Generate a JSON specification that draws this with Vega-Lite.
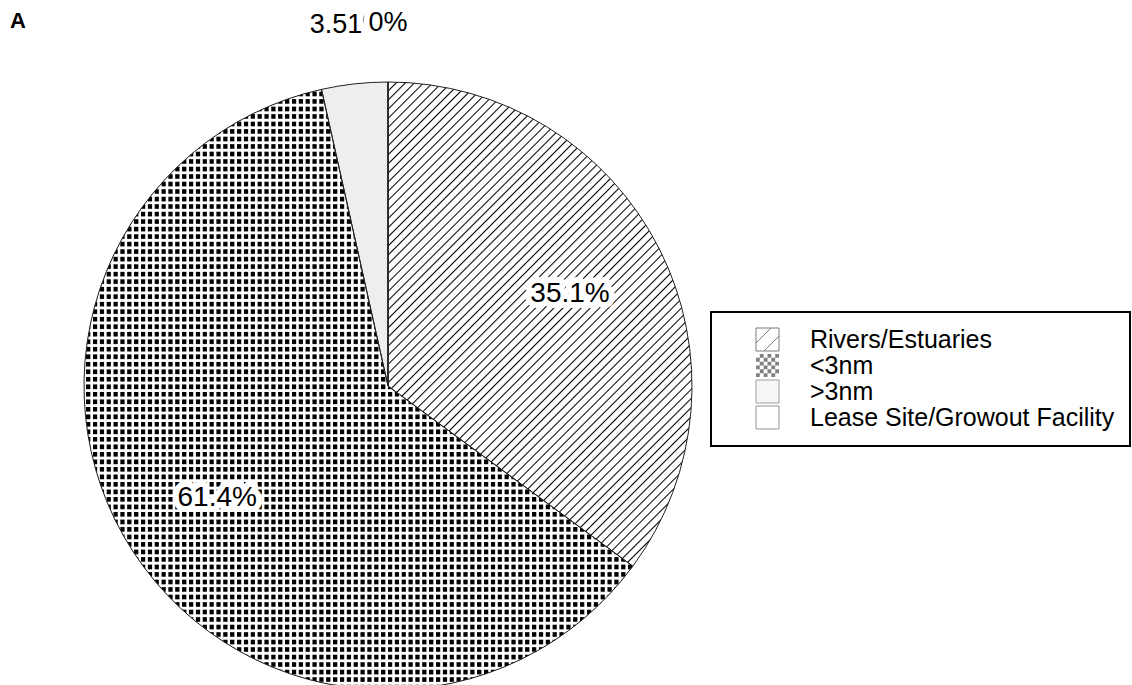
{
  "$schema": "https://vega.github.io/schema/vega-lite/v6.json",
  "width": 608,
  "height": 598,
  "autosize": {"type": "none"},
  "padding": {"left": 84, "top": 87, "right": 440, "bottom": 0},
  "background": "white",
  "title": {"text": "A", "anchor": "start", "frame": "group", "orient": "top", "offset": 0, "dx": -74, "dy": 41, "baseline": "alphabetic", "fontSize": 22, "fontWeight": "bold", "font": "Liberation Sans", "color": "#000"},
  "config": {
    "view": {"stroke": null},
    "font": "Liberation Sans",
    "title": {"fontSize": 22, "fontWeight": "bold"},
    "legend": {"title": null, "orient": "none", "legendX": 627, "legendY": 225, "padding": 15, "strokeColor": "#000", "strokeWidth": 2, "symbolSize": 529, "symbolStrokeWidth": 1, "symbolOffset": 29, "labelFontSize": 25, "labelFont": "Liberation Sans", "labelColor": "#000", "labelOffset": 30, "labelLimit": 500, "rowPadding": -2.5}
  },
  "data": {"values": [
    {"category": "Rivers/Estuaries", "value": 35.1, "label": "35.1%", "i": 1},
    {"category": "<3nm", "value": 61.4, "label": "61.4%", "i": 2},
    {"category": ">3nm", "value": 3.51, "label": "3.51%", "i": 3},
    {"category": "Lease Site/Growout Facility", "value": 0, "label": "0%", "i": 4}
  ]},
  "layer": [
    {
      "mark": {"type": "point", "filled": true, "size": 529, "strokeWidth": 1},
      "encoding": {
        "fill": {"field": "category", "type": "nominal", "title": null,
          "scale": {"domain": ["Rivers/Estuaries", "<3nm", ">3nm", "Lease Site/Growout Facility"], "range": ["#ffffff", "#000000", "#eeeeee", "#ffffff"]}},
        "stroke": {"field": "category", "type": "nominal", "title": null,
          "scale": {"domain": ["Rivers/Estuaries", "<3nm", ">3nm", "Lease Site/Growout Facility"], "range": ["#444444", "transparent", "#777777", "#666666"]}},
        "shape": {"field": "category", "type": "nominal", "title": null,
          "scale": {"domain": ["Rivers/Estuaries", "<3nm", ">3nm", "Lease Site/Growout Facility"], "range": [
            "M-1,-1H1V1H-1Z M-1,0.3L0.3,-1 M-0.3,1L1,-0.3",
            "M-1,-1H1V1H-1Z M-1,-1V-0.67H-0.67V-1Z M-0.33,-1V-0.67H0V-1Z M0.33,-1V-0.67H0.67V-1Z M-0.67,-0.67V-0.33H-0.33V-0.67Z M0,-0.67V-0.33H0.33V-0.67Z M0.67,-0.67V-0.33H1V-0.67Z M-1,-0.33V0H-0.67V-0.33Z M-0.33,-0.33V0H0V-0.33Z M0.33,-0.33V0H0.67V-0.33Z M-0.67,0V0.33H-0.33V0Z M0,0V0.33H0.33V0Z M0.67,0V0.33H1V0Z M-1,0.33V0.67H-0.67V0.33Z M-0.33,0.33V0.67H0V0.33Z M0.33,0.33V0.67H0.67V0.33Z M-0.67,0.67V1H-0.33V0.67Z M0,0.67V1H0.33V0.67Z M0.67,0.67V1H1V0.67Z",
            "square", "square"]}}
      }
    },
    {
      "mark": {"type": "arc", "outerRadius": 304},
      "encoding": {
        "theta": {"field": "value", "type": "quantitative", "stack": true},
        "order": {"field": "i", "type": "quantitative"},
        "fill": {"condition": [
          {"test": "datum.i == 1", "value": "#ffffff"},
          {"test": "datum.i == 2", "value": "#000000"},
          {"test": "datum.i == 3", "value": "#eeeeee"}], "value": "#ffffff"}
      }
    },
    {
      "mark": {"type": "arc", "outerRadius": 304,
        "fill": {"gradient": "linear", "x1": 0, "y1": 0, "x2": 0.678, "y2": 1.08, "stops": [
            {"offset": 0, "color": "#000"}, {"offset": 0.002, "color": "#fff"}, {"offset": 0.0105, "color": "#fff"},
            {"offset": 0.0125, "color": "#000"}, {"offset": 0.0145, "color": "#fff"}, {"offset": 0.023, "color": "#fff"},
            {"offset": 0.025, "color": "#000"}, {"offset": 0.027, "color": "#fff"}, {"offset": 0.0355, "color": "#fff"},
            {"offset": 0.0375, "color": "#000"}, {"offset": 0.0395, "color": "#fff"}, {"offset": 0.048, "color": "#fff"},
            {"offset": 0.05, "color": "#000"}, {"offset": 0.052, "color": "#fff"}, {"offset": 0.0605, "color": "#fff"},
            {"offset": 0.0625, "color": "#000"}, {"offset": 0.0645, "color": "#fff"}, {"offset": 0.073, "color": "#fff"},
            {"offset": 0.075, "color": "#000"}, {"offset": 0.077, "color": "#fff"}, {"offset": 0.0855, "color": "#fff"},
            {"offset": 0.0875, "color": "#000"}, {"offset": 0.0895, "color": "#fff"}, {"offset": 0.098, "color": "#fff"},
            {"offset": 0.1, "color": "#000"}, {"offset": 0.102, "color": "#fff"}, {"offset": 0.1105, "color": "#fff"},
            {"offset": 0.1125, "color": "#000"}, {"offset": 0.1145, "color": "#fff"}, {"offset": 0.123, "color": "#fff"},
            {"offset": 0.125, "color": "#000"}, {"offset": 0.127, "color": "#fff"}, {"offset": 0.1355, "color": "#fff"},
            {"offset": 0.1375, "color": "#000"}, {"offset": 0.1395, "color": "#fff"}, {"offset": 0.148, "color": "#fff"},
            {"offset": 0.15, "color": "#000"}, {"offset": 0.152, "color": "#fff"}, {"offset": 0.1605, "color": "#fff"},
            {"offset": 0.1625, "color": "#000"}, {"offset": 0.1645, "color": "#fff"}, {"offset": 0.173, "color": "#fff"},
            {"offset": 0.175, "color": "#000"}, {"offset": 0.177, "color": "#fff"}, {"offset": 0.1855, "color": "#fff"},
            {"offset": 0.1875, "color": "#000"}, {"offset": 0.1895, "color": "#fff"}, {"offset": 0.198, "color": "#fff"},
            {"offset": 0.2, "color": "#000"}, {"offset": 0.202, "color": "#fff"}, {"offset": 0.2105, "color": "#fff"},
            {"offset": 0.2125, "color": "#000"}, {"offset": 0.2145, "color": "#fff"}, {"offset": 0.223, "color": "#fff"},
            {"offset": 0.225, "color": "#000"}, {"offset": 0.227, "color": "#fff"}, {"offset": 0.2355, "color": "#fff"},
            {"offset": 0.2375, "color": "#000"}, {"offset": 0.2395, "color": "#fff"}, {"offset": 0.248, "color": "#fff"},
            {"offset": 0.25, "color": "#000"}, {"offset": 0.252, "color": "#fff"}, {"offset": 0.2605, "color": "#fff"},
            {"offset": 0.2625, "color": "#000"}, {"offset": 0.2645, "color": "#fff"}, {"offset": 0.273, "color": "#fff"},
            {"offset": 0.275, "color": "#000"}, {"offset": 0.277, "color": "#fff"}, {"offset": 0.2855, "color": "#fff"},
            {"offset": 0.2875, "color": "#000"}, {"offset": 0.2895, "color": "#fff"}, {"offset": 0.298, "color": "#fff"},
            {"offset": 0.3, "color": "#000"}, {"offset": 0.302, "color": "#fff"}, {"offset": 0.3105, "color": "#fff"},
            {"offset": 0.3125, "color": "#000"}, {"offset": 0.3145, "color": "#fff"}, {"offset": 0.323, "color": "#fff"},
            {"offset": 0.325, "color": "#000"}, {"offset": 0.327, "color": "#fff"}, {"offset": 0.3355, "color": "#fff"},
            {"offset": 0.3375, "color": "#000"}, {"offset": 0.3395, "color": "#fff"}, {"offset": 0.348, "color": "#fff"},
            {"offset": 0.35, "color": "#000"}, {"offset": 0.352, "color": "#fff"}, {"offset": 0.3605, "color": "#fff"},
            {"offset": 0.3625, "color": "#000"}, {"offset": 0.3645, "color": "#fff"}, {"offset": 0.373, "color": "#fff"},
            {"offset": 0.375, "color": "#000"}, {"offset": 0.377, "color": "#fff"}, {"offset": 0.3855, "color": "#fff"},
            {"offset": 0.3875, "color": "#000"}, {"offset": 0.3895, "color": "#fff"}, {"offset": 0.398, "color": "#fff"},
            {"offset": 0.4, "color": "#000"}, {"offset": 0.402, "color": "#fff"}, {"offset": 0.4105, "color": "#fff"},
            {"offset": 0.4125, "color": "#000"}, {"offset": 0.4145, "color": "#fff"}, {"offset": 0.423, "color": "#fff"},
            {"offset": 0.425, "color": "#000"}, {"offset": 0.427, "color": "#fff"}, {"offset": 0.4355, "color": "#fff"},
            {"offset": 0.4375, "color": "#000"}, {"offset": 0.4395, "color": "#fff"}, {"offset": 0.448, "color": "#fff"},
            {"offset": 0.45, "color": "#000"}, {"offset": 0.452, "color": "#fff"}, {"offset": 0.4605, "color": "#fff"},
            {"offset": 0.4625, "color": "#000"}, {"offset": 0.4645, "color": "#fff"}, {"offset": 0.473, "color": "#fff"},
            {"offset": 0.475, "color": "#000"}, {"offset": 0.477, "color": "#fff"}, {"offset": 0.4855, "color": "#fff"},
            {"offset": 0.4875, "color": "#000"}, {"offset": 0.4895, "color": "#fff"}, {"offset": 0.498, "color": "#fff"},
            {"offset": 0.5, "color": "#000"}, {"offset": 0.502, "color": "#fff"}, {"offset": 0.5105, "color": "#fff"},
            {"offset": 0.5125, "color": "#000"}, {"offset": 0.5145, "color": "#fff"}, {"offset": 0.523, "color": "#fff"},
            {"offset": 0.525, "color": "#000"}, {"offset": 0.527, "color": "#fff"}, {"offset": 0.5355, "color": "#fff"},
            {"offset": 0.5375, "color": "#000"}, {"offset": 0.5395, "color": "#fff"}, {"offset": 0.548, "color": "#fff"},
            {"offset": 0.55, "color": "#000"}, {"offset": 0.552, "color": "#fff"}, {"offset": 0.5605, "color": "#fff"},
            {"offset": 0.5625, "color": "#000"}, {"offset": 0.5645, "color": "#fff"}, {"offset": 0.573, "color": "#fff"},
            {"offset": 0.575, "color": "#000"}, {"offset": 0.577, "color": "#fff"}, {"offset": 0.5855, "color": "#fff"},
            {"offset": 0.5875, "color": "#000"}, {"offset": 0.5895, "color": "#fff"}, {"offset": 0.598, "color": "#fff"},
            {"offset": 0.6, "color": "#000"}, {"offset": 0.602, "color": "#fff"}, {"offset": 0.6105, "color": "#fff"},
            {"offset": 0.6125, "color": "#000"}, {"offset": 0.6145, "color": "#fff"}, {"offset": 0.623, "color": "#fff"},
            {"offset": 0.625, "color": "#000"}, {"offset": 0.627, "color": "#fff"}, {"offset": 0.6355, "color": "#fff"},
            {"offset": 0.6375, "color": "#000"}, {"offset": 0.6395, "color": "#fff"}, {"offset": 0.648, "color": "#fff"},
            {"offset": 0.65, "color": "#000"}, {"offset": 0.652, "color": "#fff"}, {"offset": 0.6605, "color": "#fff"},
            {"offset": 0.6625, "color": "#000"}, {"offset": 0.6645, "color": "#fff"}, {"offset": 0.673, "color": "#fff"},
            {"offset": 0.675, "color": "#000"}, {"offset": 0.677, "color": "#fff"}, {"offset": 0.6855, "color": "#fff"},
            {"offset": 0.6875, "color": "#000"}, {"offset": 0.6895, "color": "#fff"}, {"offset": 0.698, "color": "#fff"},
            {"offset": 0.7, "color": "#000"}, {"offset": 0.702, "color": "#fff"}, {"offset": 0.7105, "color": "#fff"},
            {"offset": 0.7125, "color": "#000"}, {"offset": 0.7145, "color": "#fff"}, {"offset": 0.723, "color": "#fff"},
            {"offset": 0.725, "color": "#000"}, {"offset": 0.727, "color": "#fff"}, {"offset": 0.7355, "color": "#fff"},
            {"offset": 0.7375, "color": "#000"}, {"offset": 0.7395, "color": "#fff"}, {"offset": 0.748, "color": "#fff"},
            {"offset": 0.75, "color": "#000"}, {"offset": 0.752, "color": "#fff"}, {"offset": 0.7605, "color": "#fff"},
            {"offset": 0.7625, "color": "#000"}, {"offset": 0.7645, "color": "#fff"}, {"offset": 0.773, "color": "#fff"},
            {"offset": 0.775, "color": "#000"}, {"offset": 0.777, "color": "#fff"}, {"offset": 0.7855, "color": "#fff"},
            {"offset": 0.7875, "color": "#000"}, {"offset": 0.7895, "color": "#fff"}, {"offset": 0.798, "color": "#fff"},
            {"offset": 0.8, "color": "#000"}, {"offset": 0.802, "color": "#fff"}, {"offset": 0.8105, "color": "#fff"},
            {"offset": 0.8125, "color": "#000"}, {"offset": 0.8145, "color": "#fff"}, {"offset": 0.823, "color": "#fff"},
            {"offset": 0.825, "color": "#000"}, {"offset": 0.827, "color": "#fff"}, {"offset": 0.8355, "color": "#fff"},
            {"offset": 0.8375, "color": "#000"}, {"offset": 0.8395, "color": "#fff"}, {"offset": 0.848, "color": "#fff"},
            {"offset": 0.85, "color": "#000"}, {"offset": 0.852, "color": "#fff"}, {"offset": 0.8605, "color": "#fff"},
            {"offset": 0.8625, "color": "#000"}, {"offset": 0.8645, "color": "#fff"}, {"offset": 0.873, "color": "#fff"},
            {"offset": 0.875, "color": "#000"}, {"offset": 0.877, "color": "#fff"}, {"offset": 0.8855, "color": "#fff"},
            {"offset": 0.8875, "color": "#000"}, {"offset": 0.8895, "color": "#fff"}, {"offset": 0.898, "color": "#fff"},
            {"offset": 0.9, "color": "#000"}, {"offset": 0.902, "color": "#fff"}, {"offset": 0.9105, "color": "#fff"},
            {"offset": 0.9125, "color": "#000"}, {"offset": 0.9145, "color": "#fff"}, {"offset": 0.923, "color": "#fff"},
            {"offset": 0.925, "color": "#000"}, {"offset": 0.927, "color": "#fff"}, {"offset": 0.9355, "color": "#fff"},
            {"offset": 0.9375, "color": "#000"}, {"offset": 0.9395, "color": "#fff"}, {"offset": 0.948, "color": "#fff"},
            {"offset": 0.95, "color": "#000"}, {"offset": 0.952, "color": "#fff"}, {"offset": 0.9605, "color": "#fff"},
            {"offset": 0.9625, "color": "#000"}, {"offset": 0.9645, "color": "#fff"}, {"offset": 0.973, "color": "#fff"},
            {"offset": 0.975, "color": "#000"}, {"offset": 0.977, "color": "#fff"}, {"offset": 0.9855, "color": "#fff"},
            {"offset": 0.9875, "color": "#000"}, {"offset": 0.9895, "color": "#fff"}, {"offset": 1, "color": "#fff"}
          ]}},
      "encoding": {
        "theta": {"field": "value", "type": "quantitative", "stack": true},
        "order": {"field": "i", "type": "quantitative"},
        "fillOpacity": {"condition": {"test": "datum.i == 1", "value": 1}, "value": 0}
      }
    },
    {
      "mark": {"type": "arc", "outerRadius": 304,
        "fill": {"gradient": "linear", "x1": 0, "y1": 0, "x2": 1, "y2": 0, "stops": [
            {"offset": 0, "color": "#fff"}, {"offset": 0.003, "color": "#fff"}, {"offset": 0.0045, "color": "#fff0"}, {"offset": 0.0105, "color": "#fff0"},
            {"offset": 0.0125, "color": "#fff"}, {"offset": 0.0155, "color": "#fff"}, {"offset": 0.017, "color": "#fff0"}, {"offset": 0.023, "color": "#fff0"},
            {"offset": 0.025, "color": "#fff"}, {"offset": 0.028, "color": "#fff"}, {"offset": 0.0295, "color": "#fff0"}, {"offset": 0.0355, "color": "#fff0"},
            {"offset": 0.0375, "color": "#fff"}, {"offset": 0.0405, "color": "#fff"}, {"offset": 0.042, "color": "#fff0"}, {"offset": 0.048, "color": "#fff0"},
            {"offset": 0.05, "color": "#fff"}, {"offset": 0.053, "color": "#fff"}, {"offset": 0.0545, "color": "#fff0"}, {"offset": 0.0605, "color": "#fff0"},
            {"offset": 0.0625, "color": "#fff"}, {"offset": 0.0655, "color": "#fff"}, {"offset": 0.067, "color": "#fff0"}, {"offset": 0.073, "color": "#fff0"},
            {"offset": 0.075, "color": "#fff"}, {"offset": 0.078, "color": "#fff"}, {"offset": 0.0795, "color": "#fff0"}, {"offset": 0.0855, "color": "#fff0"},
            {"offset": 0.0875, "color": "#fff"}, {"offset": 0.0905, "color": "#fff"}, {"offset": 0.092, "color": "#fff0"}, {"offset": 0.098, "color": "#fff0"},
            {"offset": 0.1, "color": "#fff"}, {"offset": 0.103, "color": "#fff"}, {"offset": 0.1045, "color": "#fff0"}, {"offset": 0.1105, "color": "#fff0"},
            {"offset": 0.1125, "color": "#fff"}, {"offset": 0.1155, "color": "#fff"}, {"offset": 0.117, "color": "#fff0"}, {"offset": 0.123, "color": "#fff0"},
            {"offset": 0.125, "color": "#fff"}, {"offset": 0.128, "color": "#fff"}, {"offset": 0.1295, "color": "#fff0"}, {"offset": 0.1355, "color": "#fff0"},
            {"offset": 0.1375, "color": "#fff"}, {"offset": 0.1405, "color": "#fff"}, {"offset": 0.142, "color": "#fff0"}, {"offset": 0.148, "color": "#fff0"},
            {"offset": 0.15, "color": "#fff"}, {"offset": 0.153, "color": "#fff"}, {"offset": 0.1545, "color": "#fff0"}, {"offset": 0.1605, "color": "#fff0"},
            {"offset": 0.1625, "color": "#fff"}, {"offset": 0.1655, "color": "#fff"}, {"offset": 0.167, "color": "#fff0"}, {"offset": 0.173, "color": "#fff0"},
            {"offset": 0.175, "color": "#fff"}, {"offset": 0.178, "color": "#fff"}, {"offset": 0.1795, "color": "#fff0"}, {"offset": 0.1855, "color": "#fff0"},
            {"offset": 0.1875, "color": "#fff"}, {"offset": 0.1905, "color": "#fff"}, {"offset": 0.192, "color": "#fff0"}, {"offset": 0.198, "color": "#fff0"},
            {"offset": 0.2, "color": "#fff"}, {"offset": 0.203, "color": "#fff"}, {"offset": 0.2045, "color": "#fff0"}, {"offset": 0.2105, "color": "#fff0"},
            {"offset": 0.2125, "color": "#fff"}, {"offset": 0.2155, "color": "#fff"}, {"offset": 0.217, "color": "#fff0"}, {"offset": 0.223, "color": "#fff0"},
            {"offset": 0.225, "color": "#fff"}, {"offset": 0.228, "color": "#fff"}, {"offset": 0.2295, "color": "#fff0"}, {"offset": 0.2355, "color": "#fff0"},
            {"offset": 0.2375, "color": "#fff"}, {"offset": 0.2405, "color": "#fff"}, {"offset": 0.242, "color": "#fff0"}, {"offset": 0.248, "color": "#fff0"},
            {"offset": 0.25, "color": "#fff"}, {"offset": 0.253, "color": "#fff"}, {"offset": 0.2545, "color": "#fff0"}, {"offset": 0.2605, "color": "#fff0"},
            {"offset": 0.2625, "color": "#fff"}, {"offset": 0.2655, "color": "#fff"}, {"offset": 0.267, "color": "#fff0"}, {"offset": 0.273, "color": "#fff0"},
            {"offset": 0.275, "color": "#fff"}, {"offset": 0.278, "color": "#fff"}, {"offset": 0.2795, "color": "#fff0"}, {"offset": 0.2855, "color": "#fff0"},
            {"offset": 0.2875, "color": "#fff"}, {"offset": 0.2905, "color": "#fff"}, {"offset": 0.292, "color": "#fff0"}, {"offset": 0.298, "color": "#fff0"},
            {"offset": 0.3, "color": "#fff"}, {"offset": 0.303, "color": "#fff"}, {"offset": 0.3045, "color": "#fff0"}, {"offset": 0.3105, "color": "#fff0"},
            {"offset": 0.3125, "color": "#fff"}, {"offset": 0.3155, "color": "#fff"}, {"offset": 0.317, "color": "#fff0"}, {"offset": 0.323, "color": "#fff0"},
            {"offset": 0.325, "color": "#fff"}, {"offset": 0.328, "color": "#fff"}, {"offset": 0.3295, "color": "#fff0"}, {"offset": 0.3355, "color": "#fff0"},
            {"offset": 0.3375, "color": "#fff"}, {"offset": 0.3405, "color": "#fff"}, {"offset": 0.342, "color": "#fff0"}, {"offset": 0.348, "color": "#fff0"},
            {"offset": 0.35, "color": "#fff"}, {"offset": 0.353, "color": "#fff"}, {"offset": 0.3545, "color": "#fff0"}, {"offset": 0.3605, "color": "#fff0"},
            {"offset": 0.3625, "color": "#fff"}, {"offset": 0.3655, "color": "#fff"}, {"offset": 0.367, "color": "#fff0"}, {"offset": 0.373, "color": "#fff0"},
            {"offset": 0.375, "color": "#fff"}, {"offset": 0.378, "color": "#fff"}, {"offset": 0.3795, "color": "#fff0"}, {"offset": 0.3855, "color": "#fff0"},
            {"offset": 0.3875, "color": "#fff"}, {"offset": 0.3905, "color": "#fff"}, {"offset": 0.392, "color": "#fff0"}, {"offset": 0.398, "color": "#fff0"},
            {"offset": 0.4, "color": "#fff"}, {"offset": 0.403, "color": "#fff"}, {"offset": 0.4045, "color": "#fff0"}, {"offset": 0.4105, "color": "#fff0"},
            {"offset": 0.4125, "color": "#fff"}, {"offset": 0.4155, "color": "#fff"}, {"offset": 0.417, "color": "#fff0"}, {"offset": 0.423, "color": "#fff0"},
            {"offset": 0.425, "color": "#fff"}, {"offset": 0.428, "color": "#fff"}, {"offset": 0.4295, "color": "#fff0"}, {"offset": 0.4355, "color": "#fff0"},
            {"offset": 0.4375, "color": "#fff"}, {"offset": 0.4405, "color": "#fff"}, {"offset": 0.442, "color": "#fff0"}, {"offset": 0.448, "color": "#fff0"},
            {"offset": 0.45, "color": "#fff"}, {"offset": 0.453, "color": "#fff"}, {"offset": 0.4545, "color": "#fff0"}, {"offset": 0.4605, "color": "#fff0"},
            {"offset": 0.4625, "color": "#fff"}, {"offset": 0.4655, "color": "#fff"}, {"offset": 0.467, "color": "#fff0"}, {"offset": 0.473, "color": "#fff0"},
            {"offset": 0.475, "color": "#fff"}, {"offset": 0.478, "color": "#fff"}, {"offset": 0.4795, "color": "#fff0"}, {"offset": 0.4855, "color": "#fff0"},
            {"offset": 0.4875, "color": "#fff"}, {"offset": 0.4905, "color": "#fff"}, {"offset": 0.492, "color": "#fff0"}, {"offset": 0.498, "color": "#fff0"},
            {"offset": 0.5, "color": "#fff"}, {"offset": 0.503, "color": "#fff"}, {"offset": 0.5045, "color": "#fff0"}, {"offset": 0.5105, "color": "#fff0"},
            {"offset": 0.5125, "color": "#fff"}, {"offset": 0.5155, "color": "#fff"}, {"offset": 0.517, "color": "#fff0"}, {"offset": 0.523, "color": "#fff0"},
            {"offset": 0.525, "color": "#fff"}, {"offset": 0.528, "color": "#fff"}, {"offset": 0.5295, "color": "#fff0"}, {"offset": 0.5355, "color": "#fff0"},
            {"offset": 0.5375, "color": "#fff"}, {"offset": 0.5405, "color": "#fff"}, {"offset": 0.542, "color": "#fff0"}, {"offset": 0.548, "color": "#fff0"},
            {"offset": 0.55, "color": "#fff"}, {"offset": 0.553, "color": "#fff"}, {"offset": 0.5545, "color": "#fff0"}, {"offset": 0.5605, "color": "#fff0"},
            {"offset": 0.5625, "color": "#fff"}, {"offset": 0.5655, "color": "#fff"}, {"offset": 0.567, "color": "#fff0"}, {"offset": 0.573, "color": "#fff0"},
            {"offset": 0.575, "color": "#fff"}, {"offset": 0.578, "color": "#fff"}, {"offset": 0.5795, "color": "#fff0"}, {"offset": 0.5855, "color": "#fff0"},
            {"offset": 0.5875, "color": "#fff"}, {"offset": 0.5905, "color": "#fff"}, {"offset": 0.592, "color": "#fff0"}, {"offset": 0.598, "color": "#fff0"},
            {"offset": 0.6, "color": "#fff"}, {"offset": 0.603, "color": "#fff"}, {"offset": 0.6045, "color": "#fff0"}, {"offset": 0.6105, "color": "#fff0"},
            {"offset": 0.6125, "color": "#fff"}, {"offset": 0.6155, "color": "#fff"}, {"offset": 0.617, "color": "#fff0"}, {"offset": 0.623, "color": "#fff0"},
            {"offset": 0.625, "color": "#fff"}, {"offset": 0.628, "color": "#fff"}, {"offset": 0.6295, "color": "#fff0"}, {"offset": 0.6355, "color": "#fff0"},
            {"offset": 0.6375, "color": "#fff"}, {"offset": 0.6405, "color": "#fff"}, {"offset": 0.642, "color": "#fff0"}, {"offset": 0.648, "color": "#fff0"},
            {"offset": 0.65, "color": "#fff"}, {"offset": 0.653, "color": "#fff"}, {"offset": 0.6545, "color": "#fff0"}, {"offset": 0.6605, "color": "#fff0"},
            {"offset": 0.6625, "color": "#fff"}, {"offset": 0.6655, "color": "#fff"}, {"offset": 0.667, "color": "#fff0"}, {"offset": 0.673, "color": "#fff0"},
            {"offset": 0.675, "color": "#fff"}, {"offset": 0.678, "color": "#fff"}, {"offset": 0.6795, "color": "#fff0"}, {"offset": 0.6855, "color": "#fff0"},
            {"offset": 0.6875, "color": "#fff"}, {"offset": 0.6905, "color": "#fff"}, {"offset": 0.692, "color": "#fff0"}, {"offset": 0.698, "color": "#fff0"},
            {"offset": 0.7, "color": "#fff"}, {"offset": 0.703, "color": "#fff"}, {"offset": 0.7045, "color": "#fff0"}, {"offset": 0.7105, "color": "#fff0"},
            {"offset": 0.7125, "color": "#fff"}, {"offset": 0.7155, "color": "#fff"}, {"offset": 0.717, "color": "#fff0"}, {"offset": 0.723, "color": "#fff0"},
            {"offset": 0.725, "color": "#fff"}, {"offset": 0.728, "color": "#fff"}, {"offset": 0.7295, "color": "#fff0"}, {"offset": 0.7355, "color": "#fff0"},
            {"offset": 0.7375, "color": "#fff"}, {"offset": 0.7405, "color": "#fff"}, {"offset": 0.742, "color": "#fff0"}, {"offset": 0.748, "color": "#fff0"},
            {"offset": 0.75, "color": "#fff"}, {"offset": 0.753, "color": "#fff"}, {"offset": 0.7545, "color": "#fff0"}, {"offset": 0.7605, "color": "#fff0"},
            {"offset": 0.7625, "color": "#fff"}, {"offset": 0.7655, "color": "#fff"}, {"offset": 0.767, "color": "#fff0"}, {"offset": 0.773, "color": "#fff0"},
            {"offset": 0.775, "color": "#fff"}, {"offset": 0.778, "color": "#fff"}, {"offset": 0.7795, "color": "#fff0"}, {"offset": 0.7855, "color": "#fff0"},
            {"offset": 0.7875, "color": "#fff"}, {"offset": 0.7905, "color": "#fff"}, {"offset": 0.792, "color": "#fff0"}, {"offset": 0.798, "color": "#fff0"},
            {"offset": 0.8, "color": "#fff"}, {"offset": 0.803, "color": "#fff"}, {"offset": 0.8045, "color": "#fff0"}, {"offset": 0.8105, "color": "#fff0"},
            {"offset": 0.8125, "color": "#fff"}, {"offset": 0.8155, "color": "#fff"}, {"offset": 0.817, "color": "#fff0"}, {"offset": 0.823, "color": "#fff0"},
            {"offset": 0.825, "color": "#fff"}, {"offset": 0.828, "color": "#fff"}, {"offset": 0.8295, "color": "#fff0"}, {"offset": 0.8355, "color": "#fff0"},
            {"offset": 0.8375, "color": "#fff"}, {"offset": 0.8405, "color": "#fff"}, {"offset": 0.842, "color": "#fff0"}, {"offset": 0.848, "color": "#fff0"},
            {"offset": 0.85, "color": "#fff"}, {"offset": 0.853, "color": "#fff"}, {"offset": 0.8545, "color": "#fff0"}, {"offset": 0.8605, "color": "#fff0"},
            {"offset": 0.8625, "color": "#fff"}, {"offset": 0.8655, "color": "#fff"}, {"offset": 0.867, "color": "#fff0"}, {"offset": 0.873, "color": "#fff0"},
            {"offset": 0.875, "color": "#fff"}, {"offset": 0.878, "color": "#fff"}, {"offset": 0.8795, "color": "#fff0"}, {"offset": 0.8855, "color": "#fff0"},
            {"offset": 0.8875, "color": "#fff"}, {"offset": 0.8905, "color": "#fff"}, {"offset": 0.892, "color": "#fff0"}, {"offset": 0.898, "color": "#fff0"},
            {"offset": 0.9, "color": "#fff"}, {"offset": 0.903, "color": "#fff"}, {"offset": 0.9045, "color": "#fff0"}, {"offset": 0.9105, "color": "#fff0"},
            {"offset": 0.9125, "color": "#fff"}, {"offset": 0.9155, "color": "#fff"}, {"offset": 0.917, "color": "#fff0"}, {"offset": 0.923, "color": "#fff0"},
            {"offset": 0.925, "color": "#fff"}, {"offset": 0.928, "color": "#fff"}, {"offset": 0.9295, "color": "#fff0"}, {"offset": 0.9355, "color": "#fff0"},
            {"offset": 0.9375, "color": "#fff"}, {"offset": 0.9405, "color": "#fff"}, {"offset": 0.942, "color": "#fff0"}, {"offset": 0.948, "color": "#fff0"},
            {"offset": 0.95, "color": "#fff"}, {"offset": 0.953, "color": "#fff"}, {"offset": 0.9545, "color": "#fff0"}, {"offset": 0.9605, "color": "#fff0"},
            {"offset": 0.9625, "color": "#fff"}, {"offset": 0.9655, "color": "#fff"}, {"offset": 0.967, "color": "#fff0"}, {"offset": 0.973, "color": "#fff0"},
            {"offset": 0.975, "color": "#fff"}, {"offset": 0.978, "color": "#fff"}, {"offset": 0.9795, "color": "#fff0"}, {"offset": 0.9855, "color": "#fff0"},
            {"offset": 0.9875, "color": "#fff"}, {"offset": 0.9905, "color": "#fff"}, {"offset": 0.992, "color": "#fff0"}, {"offset": 0.998, "color": "#fff0"},
            {"offset": 1, "color": "#fff"}
          ]}},
      "encoding": {
        "theta": {"field": "value", "type": "quantitative", "stack": true},
        "order": {"field": "i", "type": "quantitative"},
        "fillOpacity": {"condition": {"test": "datum.i == 2", "value": 1}, "value": 0}
      }
    },
    {
      "mark": {"type": "arc", "outerRadius": 304,
        "fill": {"gradient": "linear", "x1": 0, "y1": 0, "x2": 0, "y2": 1, "stops": [
            {"offset": 0, "color": "#fff"}, {"offset": 0.003, "color": "#fff"}, {"offset": 0.0045, "color": "#fff0"}, {"offset": 0.0105, "color": "#fff0"},
            {"offset": 0.0125, "color": "#fff"}, {"offset": 0.0155, "color": "#fff"}, {"offset": 0.017, "color": "#fff0"}, {"offset": 0.023, "color": "#fff0"},
            {"offset": 0.025, "color": "#fff"}, {"offset": 0.028, "color": "#fff"}, {"offset": 0.0295, "color": "#fff0"}, {"offset": 0.0355, "color": "#fff0"},
            {"offset": 0.0375, "color": "#fff"}, {"offset": 0.0405, "color": "#fff"}, {"offset": 0.042, "color": "#fff0"}, {"offset": 0.048, "color": "#fff0"},
            {"offset": 0.05, "color": "#fff"}, {"offset": 0.053, "color": "#fff"}, {"offset": 0.0545, "color": "#fff0"}, {"offset": 0.0605, "color": "#fff0"},
            {"offset": 0.0625, "color": "#fff"}, {"offset": 0.0655, "color": "#fff"}, {"offset": 0.067, "color": "#fff0"}, {"offset": 0.073, "color": "#fff0"},
            {"offset": 0.075, "color": "#fff"}, {"offset": 0.078, "color": "#fff"}, {"offset": 0.0795, "color": "#fff0"}, {"offset": 0.0855, "color": "#fff0"},
            {"offset": 0.0875, "color": "#fff"}, {"offset": 0.0905, "color": "#fff"}, {"offset": 0.092, "color": "#fff0"}, {"offset": 0.098, "color": "#fff0"},
            {"offset": 0.1, "color": "#fff"}, {"offset": 0.103, "color": "#fff"}, {"offset": 0.1045, "color": "#fff0"}, {"offset": 0.1105, "color": "#fff0"},
            {"offset": 0.1125, "color": "#fff"}, {"offset": 0.1155, "color": "#fff"}, {"offset": 0.117, "color": "#fff0"}, {"offset": 0.123, "color": "#fff0"},
            {"offset": 0.125, "color": "#fff"}, {"offset": 0.128, "color": "#fff"}, {"offset": 0.1295, "color": "#fff0"}, {"offset": 0.1355, "color": "#fff0"},
            {"offset": 0.1375, "color": "#fff"}, {"offset": 0.1405, "color": "#fff"}, {"offset": 0.142, "color": "#fff0"}, {"offset": 0.148, "color": "#fff0"},
            {"offset": 0.15, "color": "#fff"}, {"offset": 0.153, "color": "#fff"}, {"offset": 0.1545, "color": "#fff0"}, {"offset": 0.1605, "color": "#fff0"},
            {"offset": 0.1625, "color": "#fff"}, {"offset": 0.1655, "color": "#fff"}, {"offset": 0.167, "color": "#fff0"}, {"offset": 0.173, "color": "#fff0"},
            {"offset": 0.175, "color": "#fff"}, {"offset": 0.178, "color": "#fff"}, {"offset": 0.1795, "color": "#fff0"}, {"offset": 0.1855, "color": "#fff0"},
            {"offset": 0.1875, "color": "#fff"}, {"offset": 0.1905, "color": "#fff"}, {"offset": 0.192, "color": "#fff0"}, {"offset": 0.198, "color": "#fff0"},
            {"offset": 0.2, "color": "#fff"}, {"offset": 0.203, "color": "#fff"}, {"offset": 0.2045, "color": "#fff0"}, {"offset": 0.2105, "color": "#fff0"},
            {"offset": 0.2125, "color": "#fff"}, {"offset": 0.2155, "color": "#fff"}, {"offset": 0.217, "color": "#fff0"}, {"offset": 0.223, "color": "#fff0"},
            {"offset": 0.225, "color": "#fff"}, {"offset": 0.228, "color": "#fff"}, {"offset": 0.2295, "color": "#fff0"}, {"offset": 0.2355, "color": "#fff0"},
            {"offset": 0.2375, "color": "#fff"}, {"offset": 0.2405, "color": "#fff"}, {"offset": 0.242, "color": "#fff0"}, {"offset": 0.248, "color": "#fff0"},
            {"offset": 0.25, "color": "#fff"}, {"offset": 0.253, "color": "#fff"}, {"offset": 0.2545, "color": "#fff0"}, {"offset": 0.2605, "color": "#fff0"},
            {"offset": 0.2625, "color": "#fff"}, {"offset": 0.2655, "color": "#fff"}, {"offset": 0.267, "color": "#fff0"}, {"offset": 0.273, "color": "#fff0"},
            {"offset": 0.275, "color": "#fff"}, {"offset": 0.278, "color": "#fff"}, {"offset": 0.2795, "color": "#fff0"}, {"offset": 0.2855, "color": "#fff0"},
            {"offset": 0.2875, "color": "#fff"}, {"offset": 0.2905, "color": "#fff"}, {"offset": 0.292, "color": "#fff0"}, {"offset": 0.298, "color": "#fff0"},
            {"offset": 0.3, "color": "#fff"}, {"offset": 0.303, "color": "#fff"}, {"offset": 0.3045, "color": "#fff0"}, {"offset": 0.3105, "color": "#fff0"},
            {"offset": 0.3125, "color": "#fff"}, {"offset": 0.3155, "color": "#fff"}, {"offset": 0.317, "color": "#fff0"}, {"offset": 0.323, "color": "#fff0"},
            {"offset": 0.325, "color": "#fff"}, {"offset": 0.328, "color": "#fff"}, {"offset": 0.3295, "color": "#fff0"}, {"offset": 0.3355, "color": "#fff0"},
            {"offset": 0.3375, "color": "#fff"}, {"offset": 0.3405, "color": "#fff"}, {"offset": 0.342, "color": "#fff0"}, {"offset": 0.348, "color": "#fff0"},
            {"offset": 0.35, "color": "#fff"}, {"offset": 0.353, "color": "#fff"}, {"offset": 0.3545, "color": "#fff0"}, {"offset": 0.3605, "color": "#fff0"},
            {"offset": 0.3625, "color": "#fff"}, {"offset": 0.3655, "color": "#fff"}, {"offset": 0.367, "color": "#fff0"}, {"offset": 0.373, "color": "#fff0"},
            {"offset": 0.375, "color": "#fff"}, {"offset": 0.378, "color": "#fff"}, {"offset": 0.3795, "color": "#fff0"}, {"offset": 0.3855, "color": "#fff0"},
            {"offset": 0.3875, "color": "#fff"}, {"offset": 0.3905, "color": "#fff"}, {"offset": 0.392, "color": "#fff0"}, {"offset": 0.398, "color": "#fff0"},
            {"offset": 0.4, "color": "#fff"}, {"offset": 0.403, "color": "#fff"}, {"offset": 0.4045, "color": "#fff0"}, {"offset": 0.4105, "color": "#fff0"},
            {"offset": 0.4125, "color": "#fff"}, {"offset": 0.4155, "color": "#fff"}, {"offset": 0.417, "color": "#fff0"}, {"offset": 0.423, "color": "#fff0"},
            {"offset": 0.425, "color": "#fff"}, {"offset": 0.428, "color": "#fff"}, {"offset": 0.4295, "color": "#fff0"}, {"offset": 0.4355, "color": "#fff0"},
            {"offset": 0.4375, "color": "#fff"}, {"offset": 0.4405, "color": "#fff"}, {"offset": 0.442, "color": "#fff0"}, {"offset": 0.448, "color": "#fff0"},
            {"offset": 0.45, "color": "#fff"}, {"offset": 0.453, "color": "#fff"}, {"offset": 0.4545, "color": "#fff0"}, {"offset": 0.4605, "color": "#fff0"},
            {"offset": 0.4625, "color": "#fff"}, {"offset": 0.4655, "color": "#fff"}, {"offset": 0.467, "color": "#fff0"}, {"offset": 0.473, "color": "#fff0"},
            {"offset": 0.475, "color": "#fff"}, {"offset": 0.478, "color": "#fff"}, {"offset": 0.4795, "color": "#fff0"}, {"offset": 0.4855, "color": "#fff0"},
            {"offset": 0.4875, "color": "#fff"}, {"offset": 0.4905, "color": "#fff"}, {"offset": 0.492, "color": "#fff0"}, {"offset": 0.498, "color": "#fff0"},
            {"offset": 0.5, "color": "#fff"}, {"offset": 0.503, "color": "#fff"}, {"offset": 0.5045, "color": "#fff0"}, {"offset": 0.5105, "color": "#fff0"},
            {"offset": 0.5125, "color": "#fff"}, {"offset": 0.5155, "color": "#fff"}, {"offset": 0.517, "color": "#fff0"}, {"offset": 0.523, "color": "#fff0"},
            {"offset": 0.525, "color": "#fff"}, {"offset": 0.528, "color": "#fff"}, {"offset": 0.5295, "color": "#fff0"}, {"offset": 0.5355, "color": "#fff0"},
            {"offset": 0.5375, "color": "#fff"}, {"offset": 0.5405, "color": "#fff"}, {"offset": 0.542, "color": "#fff0"}, {"offset": 0.548, "color": "#fff0"},
            {"offset": 0.55, "color": "#fff"}, {"offset": 0.553, "color": "#fff"}, {"offset": 0.5545, "color": "#fff0"}, {"offset": 0.5605, "color": "#fff0"},
            {"offset": 0.5625, "color": "#fff"}, {"offset": 0.5655, "color": "#fff"}, {"offset": 0.567, "color": "#fff0"}, {"offset": 0.573, "color": "#fff0"},
            {"offset": 0.575, "color": "#fff"}, {"offset": 0.578, "color": "#fff"}, {"offset": 0.5795, "color": "#fff0"}, {"offset": 0.5855, "color": "#fff0"},
            {"offset": 0.5875, "color": "#fff"}, {"offset": 0.5905, "color": "#fff"}, {"offset": 0.592, "color": "#fff0"}, {"offset": 0.598, "color": "#fff0"},
            {"offset": 0.6, "color": "#fff"}, {"offset": 0.603, "color": "#fff"}, {"offset": 0.6045, "color": "#fff0"}, {"offset": 0.6105, "color": "#fff0"},
            {"offset": 0.6125, "color": "#fff"}, {"offset": 0.6155, "color": "#fff"}, {"offset": 0.617, "color": "#fff0"}, {"offset": 0.623, "color": "#fff0"},
            {"offset": 0.625, "color": "#fff"}, {"offset": 0.628, "color": "#fff"}, {"offset": 0.6295, "color": "#fff0"}, {"offset": 0.6355, "color": "#fff0"},
            {"offset": 0.6375, "color": "#fff"}, {"offset": 0.6405, "color": "#fff"}, {"offset": 0.642, "color": "#fff0"}, {"offset": 0.648, "color": "#fff0"},
            {"offset": 0.65, "color": "#fff"}, {"offset": 0.653, "color": "#fff"}, {"offset": 0.6545, "color": "#fff0"}, {"offset": 0.6605, "color": "#fff0"},
            {"offset": 0.6625, "color": "#fff"}, {"offset": 0.6655, "color": "#fff"}, {"offset": 0.667, "color": "#fff0"}, {"offset": 0.673, "color": "#fff0"},
            {"offset": 0.675, "color": "#fff"}, {"offset": 0.678, "color": "#fff"}, {"offset": 0.6795, "color": "#fff0"}, {"offset": 0.6855, "color": "#fff0"},
            {"offset": 0.6875, "color": "#fff"}, {"offset": 0.6905, "color": "#fff"}, {"offset": 0.692, "color": "#fff0"}, {"offset": 0.698, "color": "#fff0"},
            {"offset": 0.7, "color": "#fff"}, {"offset": 0.703, "color": "#fff"}, {"offset": 0.7045, "color": "#fff0"}, {"offset": 0.7105, "color": "#fff0"},
            {"offset": 0.7125, "color": "#fff"}, {"offset": 0.7155, "color": "#fff"}, {"offset": 0.717, "color": "#fff0"}, {"offset": 0.723, "color": "#fff0"},
            {"offset": 0.725, "color": "#fff"}, {"offset": 0.728, "color": "#fff"}, {"offset": 0.7295, "color": "#fff0"}, {"offset": 0.7355, "color": "#fff0"},
            {"offset": 0.7375, "color": "#fff"}, {"offset": 0.7405, "color": "#fff"}, {"offset": 0.742, "color": "#fff0"}, {"offset": 0.748, "color": "#fff0"},
            {"offset": 0.75, "color": "#fff"}, {"offset": 0.753, "color": "#fff"}, {"offset": 0.7545, "color": "#fff0"}, {"offset": 0.7605, "color": "#fff0"},
            {"offset": 0.7625, "color": "#fff"}, {"offset": 0.7655, "color": "#fff"}, {"offset": 0.767, "color": "#fff0"}, {"offset": 0.773, "color": "#fff0"},
            {"offset": 0.775, "color": "#fff"}, {"offset": 0.778, "color": "#fff"}, {"offset": 0.7795, "color": "#fff0"}, {"offset": 0.7855, "color": "#fff0"},
            {"offset": 0.7875, "color": "#fff"}, {"offset": 0.7905, "color": "#fff"}, {"offset": 0.792, "color": "#fff0"}, {"offset": 0.798, "color": "#fff0"},
            {"offset": 0.8, "color": "#fff"}, {"offset": 0.803, "color": "#fff"}, {"offset": 0.8045, "color": "#fff0"}, {"offset": 0.8105, "color": "#fff0"},
            {"offset": 0.8125, "color": "#fff"}, {"offset": 0.8155, "color": "#fff"}, {"offset": 0.817, "color": "#fff0"}, {"offset": 0.823, "color": "#fff0"},
            {"offset": 0.825, "color": "#fff"}, {"offset": 0.828, "color": "#fff"}, {"offset": 0.8295, "color": "#fff0"}, {"offset": 0.8355, "color": "#fff0"},
            {"offset": 0.8375, "color": "#fff"}, {"offset": 0.8405, "color": "#fff"}, {"offset": 0.842, "color": "#fff0"}, {"offset": 0.848, "color": "#fff0"},
            {"offset": 0.85, "color": "#fff"}, {"offset": 0.853, "color": "#fff"}, {"offset": 0.8545, "color": "#fff0"}, {"offset": 0.8605, "color": "#fff0"},
            {"offset": 0.8625, "color": "#fff"}, {"offset": 0.8655, "color": "#fff"}, {"offset": 0.867, "color": "#fff0"}, {"offset": 0.873, "color": "#fff0"},
            {"offset": 0.875, "color": "#fff"}, {"offset": 0.878, "color": "#fff"}, {"offset": 0.8795, "color": "#fff0"}, {"offset": 0.8855, "color": "#fff0"},
            {"offset": 0.8875, "color": "#fff"}, {"offset": 0.8905, "color": "#fff"}, {"offset": 0.892, "color": "#fff0"}, {"offset": 0.898, "color": "#fff0"},
            {"offset": 0.9, "color": "#fff"}, {"offset": 0.903, "color": "#fff"}, {"offset": 0.9045, "color": "#fff0"}, {"offset": 0.9105, "color": "#fff0"},
            {"offset": 0.9125, "color": "#fff"}, {"offset": 0.9155, "color": "#fff"}, {"offset": 0.917, "color": "#fff0"}, {"offset": 0.923, "color": "#fff0"},
            {"offset": 0.925, "color": "#fff"}, {"offset": 0.928, "color": "#fff"}, {"offset": 0.9295, "color": "#fff0"}, {"offset": 0.9355, "color": "#fff0"},
            {"offset": 0.9375, "color": "#fff"}, {"offset": 0.9405, "color": "#fff"}, {"offset": 0.942, "color": "#fff0"}, {"offset": 0.948, "color": "#fff0"},
            {"offset": 0.95, "color": "#fff"}, {"offset": 0.953, "color": "#fff"}, {"offset": 0.9545, "color": "#fff0"}, {"offset": 0.9605, "color": "#fff0"},
            {"offset": 0.9625, "color": "#fff"}, {"offset": 0.9655, "color": "#fff"}, {"offset": 0.967, "color": "#fff0"}, {"offset": 0.973, "color": "#fff0"},
            {"offset": 0.975, "color": "#fff"}, {"offset": 0.978, "color": "#fff"}, {"offset": 0.9795, "color": "#fff0"}, {"offset": 0.9855, "color": "#fff0"},
            {"offset": 0.9875, "color": "#fff"}, {"offset": 0.9905, "color": "#fff"}, {"offset": 0.992, "color": "#fff0"}, {"offset": 0.998, "color": "#fff0"},
            {"offset": 1, "color": "#fff"}
          ]}},
      "encoding": {
        "theta": {"field": "value", "type": "quantitative", "stack": true},
        "order": {"field": "i", "type": "quantitative"},
        "fillOpacity": {"condition": {"test": "datum.i == 2", "value": 1}, "value": 0}
      }
    },
    {
      "mark": {"type": "arc", "outerRadius": 304, "fillOpacity": 0, "stroke": "#222", "strokeWidth": 1},
      "encoding": {
        "theta": {"field": "value", "type": "quantitative", "stack": true},
        "order": {"field": "i", "type": "quantitative"}
      }
    },
    {
      "mark": {"type": "text", "radius": 204, "fontSize": 28, "font": "Liberation Sans", "color": "#fff", "stroke": "#fff", "strokeWidth": 12, "strokeJoin": "round"},
      "encoding": {
        "theta": {"field": "value", "type": "quantitative", "stack": true},
        "order": {"field": "i", "type": "quantitative"},
        "text": {"condition": {"test": "datum.i > 2", "value": ""}, "field": "label", "type": "nominal"}}
    },
    {
      "mark": {"type": "text", "radius": 363, "fontSize": 27, "font": "Liberation Sans", "color": "#fff", "stroke": "#fff", "strokeWidth": 10, "strokeJoin": "round"},
      "encoding": {
        "theta": {"field": "value", "type": "quantitative", "stack": true},
        "order": {"field": "i", "type": "quantitative"},
        "text": {"condition": {"test": "datum.i != 3", "value": ""}, "field": "label", "type": "nominal"}}
    },
    {
      "mark": {"type": "text", "radius": 204, "fontSize": 28, "font": "Liberation Sans", "color": "#000"},
      "encoding": {
        "theta": {"field": "value", "type": "quantitative", "stack": true},
        "order": {"field": "i", "type": "quantitative"},
        "text": {"condition": {"test": "datum.i > 2", "value": ""}, "field": "label", "type": "nominal"}}
    },
    {
      "mark": {"type": "text", "radius": 363, "fontSize": 27, "font": "Liberation Sans", "color": "#000"},
      "encoding": {
        "theta": {"field": "value", "type": "quantitative", "stack": true},
        "order": {"field": "i", "type": "quantitative"},
        "text": {"condition": {"test": "datum.i != 3", "value": ""}, "field": "label", "type": "nominal"}}
    },
    {
      "mark": {"type": "text", "radius": 363, "fontSize": 27, "font": "Liberation Sans", "color": "#fff", "stroke": "#fff", "strokeWidth": 12, "strokeJoin": "round"},
      "encoding": {
        "theta": {"field": "value", "type": "quantitative", "stack": true},
        "order": {"field": "i", "type": "quantitative"},
        "text": {"condition": {"test": "datum.i != 4", "value": ""}, "field": "label", "type": "nominal"}}
    },
    {
      "mark": {"type": "text", "radius": 363, "fontSize": 27, "font": "Liberation Sans", "color": "#000"},
      "encoding": {
        "theta": {"field": "value", "type": "quantitative", "stack": true},
        "order": {"field": "i", "type": "quantitative"},
        "text": {"condition": {"test": "datum.i != 4", "value": ""}, "field": "label", "type": "nominal"}}
    }
  ]
}
